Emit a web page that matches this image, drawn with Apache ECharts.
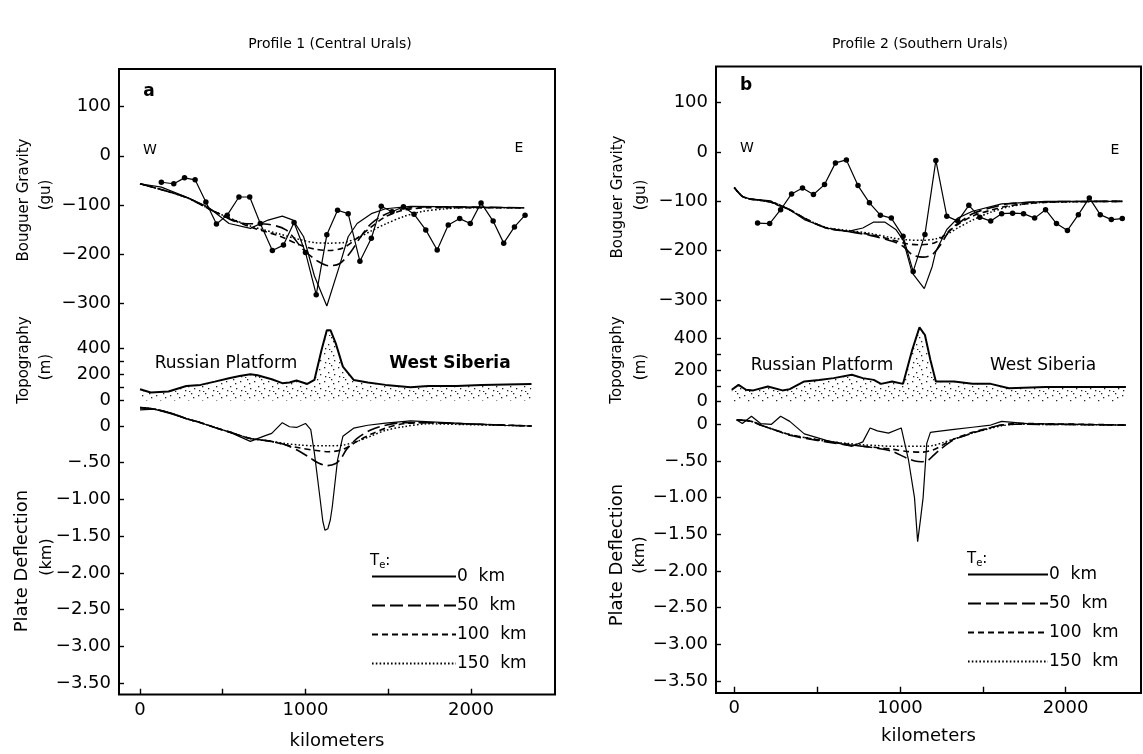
<!DOCTYPE html>
<html><head><meta charset="utf-8">
<script src="https://cdn.jsdelivr.net/npm/echarts@6/dist/echarts.min.js"></script>
<style>html,body{margin:0;padding:0;background:#fff}#c{width:1143px;height:754px}</style>
</head><body><div id="c"></div>
<script>
// ---------------- DATA (km along profile, value) ----------------
const teNames = ['0  km', '50  km', '100  km', '150  km'];
const xTickVals = [0, 500, 1000, 1500, 2000];
const xLabelVals = [0, 1000, 2000];
const gravTickVals = [100, 0, -100, -200, -300];
const topoTickVals = [0, 100, 200, 300, 400];
const topoLabelVals = [0, 200, 400];
const defTickVals = [0, -0.5, -1, -1.5, -2, -2.5, -3, -3.5];
const defTickLabels = ['0', '\u2212.50', '\u22121.00', '\u22121.50', '\u22122.00', '\u22122.50', '\u22123.00', '\u22123.50'];

// Profile 1 (Central Urals)
const p1GravObs = [[129,-54],[204,-57],[269,-45],[333,-49],[398,-94],[462,-139],[527,-121],[598,-84],[663,-84],[727,-138],[800,-193],[867,-182],[931,-136],[1000,-197],[1065,-283],[1129,-161],[1194,-111],[1258,-118],[1329,-215],[1398,-168],[1458,-103],[1523,-114],[1592,-104],[1656,-119],[1727,-151],[1796,-192],[1863,-141],[1932,-128],[1996,-138],[2061,-96],[2134,-133],[2198,-178],[2263,-145],[2327,-121]];
const p1GravTe0 = [[0,-57],[129,-64],[280,-84],[409,-104],[538,-138],[667,-148],[774,-131],[860,-123],[925,-131],[989,-165],[1054,-245],[1129,-306],[1205,-225],[1258,-165],[1312,-138],[1398,-118],[1484,-108],[1635,-103],[1957,-104],[2323,-106]];
const p1GravTe50 = [[0,-57],[280,-85],[452,-114],[624,-138],[753,-139],[882,-151],[989,-192],[1075,-215],[1140,-224],[1205,-220],[1269,-198],[1334,-165],[1398,-138],[1484,-119],[1592,-108],[1742,-104],[2323,-106]];
const p1GravTe100 = [[0,-57],[280,-85],[452,-114],[667,-145],[839,-163],[968,-182],[1054,-190],[1140,-193],[1226,-188],[1312,-168],[1398,-145],[1484,-124],[1592,-111],[1742,-106],[2323,-106]];
const p1GravTe150 = [[0,-57],[280,-85],[452,-114],[667,-143],[839,-159],[968,-171],[1054,-177],[1140,-178],[1226,-177],[1312,-168],[1398,-153],[1484,-139],[1592,-124],[1699,-114],[1850,-108],[1957,-106],[2323,-106]];
const p1Topo = [[0,86],[65,61],[172,68],[280,111],[366,119],[452,144],[538,170],[602,187],[667,200],[710,192],[796,162],[860,132],[903,137],[946,152],[1011,126],[1054,157],[1097,385],[1129,536],[1151,536],[1183,435],[1226,258],[1291,157],[1377,137],[1484,119],[1635,101],[1742,111],[1914,111],[2065,119],[2366,126]];
const p1DefTe0 = [[0,0.22],[86,0.23],[194,0.16],[280,0.10],[366,0.045],[452,-0.02],[538,-0.08],[667,-0.21],[753,-0.135],[796,-0.10],[860,0.045],[903,-0.01],[946,-0.02],[1000,0.035],[1032,-0.05],[1054,-0.37],[1086,-0.95],[1105,-1.3],[1118,-1.42],[1135,-1.4],[1150,-1.28],[1162,-1.1],[1194,-0.46],[1226,-0.14],[1291,-0.03],[1377,0.01],[1484,0.04],[1635,0.07],[1850,0.045],[2173,0.01],[2366,0]];
const p1DefTe50 = [[0,0.25],[86,0.23],[194,0.17],[280,0.10],[366,0.045],[452,-0.02],[538,-0.08],[667,-0.17],[796,-0.21],[882,-0.26],[968,-0.35],[1032,-0.44],[1075,-0.50],[1129,-0.54],[1183,-0.51],[1215,-0.44],[1248,-0.32],[1312,-0.17],[1398,-0.05],[1484,0.01],[1592,0.045],[1742,0.045],[1957,0.03],[2366,0]];
const p1DefTe100 = [[0,0.25],[86,0.23],[194,0.17],[280,0.10],[366,0.045],[452,-0.02],[538,-0.08],[667,-0.17],[796,-0.21],[882,-0.26],[968,-0.30],[1054,-0.33],[1140,-0.35],[1226,-0.32],[1312,-0.21],[1398,-0.11],[1484,-0.03],[1592,0.03],[1742,0.045],[1957,0.03],[2366,0]];
const p1DefTe150 = [[0,0.25],[86,0.23],[194,0.17],[280,0.10],[366,0.045],[452,-0.02],[538,-0.08],[667,-0.17],[796,-0.21],[882,-0.24],[968,-0.26],[1054,-0.27],[1140,-0.27],[1226,-0.26],[1312,-0.21],[1398,-0.135],[1484,-0.06],[1592,-0.01],[1742,0.03],[1957,0.02],[2366,0]];

// Profile 2 (Southern Urals)
const p2GravObs = [[141,-144],[214,-145],[280,-117],[346,-85],[412,-73],[478,-86],[545,-66],[611,-22],[677,-16],[747,-68],[816,-103],[882,-128],[948,-134],[1019,-171],[1080,-242],[1151,-167],[1217,-17],[1283,-130],[1349,-140],[1416,-108],[1482,-132],[1548,-140],[1614,-125],[1680,-124],[1746,-125],[1813,-134],[1879,-117],[1945,-145],[2011,-159],[2077,-127],[2143,-93],[2209,-127],[2276,-137],[2342,-135]];
const p2GravTe0 = [[0,-72],[49,-90],[93,-95],[159,-97],[220,-99],[260,-108],[335,-117],[423,-137],[556,-154],[688,-161],[776,-154],[842,-142],[908,-142],[975,-157],[1019,-178],[1074,-245],[1147,-277],[1195,-232],[1217,-201],[1283,-157],[1349,-134],[1438,-120],[1614,-105],[1879,-100],[2342,-100]];
const p2GravTe50 = [[0,-72],[49,-90],[93,-95],[159,-98],[247,-104],[335,-117],[423,-134],[556,-154],[688,-161],[820,-169],[953,-181],[1019,-191],[1074,-208],[1140,-213],[1195,-208],[1239,-191],[1305,-157],[1372,-140],[1438,-125],[1548,-113],[1658,-105],[1879,-101],[2342,-100]];
const p2GravTe100 = [[0,-72],[49,-90],[93,-95],[159,-98],[247,-104],[335,-117],[423,-134],[556,-154],[688,-161],[820,-167],[953,-178],[1041,-186],[1129,-188],[1217,-183],[1283,-164],[1349,-147],[1438,-130],[1548,-118],[1658,-109],[1879,-102],[2342,-100]];
const p2GravTe150 = [[0,-72],[49,-90],[93,-95],[159,-98],[247,-104],[335,-117],[423,-134],[556,-153],[688,-159],[820,-165],[953,-174],[1041,-178],[1129,-179],[1217,-176],[1283,-167],[1349,-154],[1438,-138],[1548,-122],[1658,-111],[1768,-105],[1879,-102],[2342,-100]];
const p2Topo = [[-15,75],[26,106],[71,75],[115,71],[203,96],[291,71],[335,79],[423,127],[512,137],[600,148],[710,169],[776,148],[842,137],[886,112],[953,127],[1019,112],[1074,325],[1118,467],[1151,419],[1184,262],[1217,127],[1327,127],[1438,112],[1548,112],[1658,85],[1879,92],[2099,92],[2364,92]];
const p2DefTe0 = [[15,0.06],[49,0.01],[104,0.11],[159,0.01],[225,0.0],[280,0.11],[335,0.04],[423,-0.13],[556,-0.22],[710,-0.30],[776,-0.24],[820,-0.05],[864,-0.09],[931,-0.12],[1008,-0.05],[1052,-0.49],[1088,-1.0],[1107,-1.60],[1124,-1.3],[1140,-1.0],[1162,-0.26],[1184,-0.11],[1217,-0.10],[1327,-0.07],[1438,-0.04],[1548,-0.01],[1614,0.04],[1768,0.01],[2364,-0.01]];
const p2DefTe50 = [[15,0.06],[104,0.04],[159,-0.01],[250,-0.08],[335,-0.15],[450,-0.20],[556,-0.24],[680,-0.28],[776,-0.30],[870,-0.33],[953,-0.37],[1041,-0.46],[1090,-0.50],[1129,-0.51],[1170,-0.49],[1195,-0.44],[1239,-0.35],[1327,-0.21],[1438,-0.12],[1540,-0.05],[1614,-0.01],[1700,0.0],[2364,-0.01]];
const p2DefTe100 = [[15,0.06],[104,0.04],[159,-0.01],[250,-0.08],[335,-0.14],[450,-0.19],[556,-0.23],[680,-0.27],[776,-0.30],[870,-0.32],[953,-0.34],[1041,-0.37],[1129,-0.38],[1200,-0.35],[1260,-0.28],[1327,-0.20],[1438,-0.11],[1540,-0.05],[1614,-0.01],[1700,0.01],[2364,-0.01]];
const p2DefTe150 = [[15,0.06],[104,0.04],[159,-0.01],[250,-0.08],[335,-0.14],[450,-0.19],[556,-0.23],[680,-0.26],[776,-0.28],[870,-0.29],[953,-0.30],[1041,-0.30],[1129,-0.30],[1200,-0.29],[1260,-0.25],[1327,-0.20],[1438,-0.12],[1540,-0.06],[1614,-0.02],[1700,0.0],[2364,-0.01]];

// ---------------- LAYOUT ----------------
const FONT = 'DejaVu Sans';
const INK = '#000';
const panels = [
  { left: 119, width: 436, xMin: -127, xMax: 2508, frameTop: 69, frameBottom: 694.5, kmGap: 38,
    subs: [
      { a: [100, 106.7], b: [-300, 303.0], range: [-330, 180] },
      { a: [0, 400.5], b: [400, 348.0], range: [-80, 630] },
      { a: [0, 426.0], b: [-3.5, 683.0], range: [-3.66, 0.35] }
    ] },
  { left: 716, width: 425, xMin: -110, xMax: 2455, frameTop: 66.5, frameBottom: 693, kmGap: 35,
    subs: [
      { a: [100, 102.7], b: [-300, 300.0], range: [-330, 175] },
      { a: [0, 401.7], b: [400, 338.0], range: [-60, 545] },
      { a: [0, 424.3], b: [-3.5, 681.0], range: [-3.66, 0.3] }
    ] }
];
function pxOf(s, v) { return s.a[1] + (v - s.a[0]) * (s.b[1] - s.a[1]) / (s.b[0] - s.a[0]); }

const grids = [], xAxes = [], yAxes = [];
const tickStyle = { color: INK, width: 1.4 };
const lblStyle = { fontFamily: FONT, fontSize: 18, color: INK };
function minus(v) { return v < 0 ? '\u2212' + Math.abs(v) : String(v); }

panels.forEach((p, pi) => {
  p.subs.forEach((s, si) => {
    const top = pxOf(s, s.range[1]);
    const bottom = pxOf(s, s.range[0]);
    grids.push({ left: p.left, top: top, width: p.width, height: bottom - top, containLabel: false, outerBoundsMode: 'none' });
    const gi = grids.length - 1;
    const isBottom = si === 2;
    xAxes.push({
      type: 'value', gridIndex: gi, min: p.xMin, max: p.xMax, show: isBottom, position: 'bottom',
      axisLine: { show: false, onZero: false }, splitLine: { show: false },
      axisTick: { show: true, inside: true, length: 6, customValues: xTickVals, lineStyle: tickStyle },
      axisLabel: { customValues: xLabelVals, formatter: v => String(v), margin: 7, ...lblStyle },
      name: 'kilometers', nameLocation: 'middle', nameGap: p.kmGap,
      nameTextStyle: { fontFamily: FONT, fontSize: 18, color: INK }
    });
    let tickVals, labelVals, fmt;
    if (si === 0) { tickVals = gravTickVals; labelVals = gravTickVals; fmt = minus; }
    else if (si === 1) { tickVals = topoTickVals; labelVals = topoLabelVals; fmt = minus; }
    else {
      tickVals = defTickVals; labelVals = defTickVals;
      fmt = v => { let k = 0; defTickVals.forEach((t, i) => { if (Math.abs(t - v) < 1e-6) k = i; }); return defTickLabels[k]; };
    }
    yAxes.push({
      type: 'value', gridIndex: gi, min: s.range[0], max: s.range[1], position: 'left',
      axisLine: { show: false, onZero: false }, splitLine: { show: false },
      axisTick: { show: true, inside: true, length: 5, customValues: tickVals, lineStyle: tickStyle },
      axisLabel: { customValues: labelVals, formatter: fmt, margin: 8, ...lblStyle }
    });
  });
});

// ---------------- SERIES ----------------
const teStyles = [
  { color: INK, width: 1.2, type: 'solid' },
  { color: INK, width: 1.6, type: [13, 5] },
  { color: INK, width: 1.6, type: [6, 4] },
  { color: INK, width: 1.5, type: [1.6, 2.2] }
];
function stipple() {
  const c = document.createElement('canvas'); c.width = 14; c.height = 14;
  const g = c.getContext('2d'); g.fillStyle = '#222';
  [[2,3],[9,1],[6,8],[12,10],[3,12],[11,5],[7,13]].forEach(q => g.fillRect(q[0], q[1], 1.3, 1.3));
  return c;
}
const series = [];
function addModels(list, gi) {
  list.forEach((d, i) => series.push({
    type: 'line', name: teNames[i], data: d, xAxisIndex: gi, yAxisIndex: gi,
    symbol: 'none', smooth: i === 0 ? false : 0.3, lineStyle: teStyles[i], itemStyle: { color: INK },
    silent: true, z: 3 + i
  }));
}
function addObs(d, gi) {
  series.push({ type: 'line', name: 'Observed', data: d, xAxisIndex: gi, yAxisIndex: gi,
    symbol: 'circle', symbolSize: 5.5, itemStyle: { color: INK }, lineStyle: { color: INK, width: 1.2 }, silent: true, z: 8 });
}
function addTopo(d, gi) {
  series.push({ type: 'line', name: 'Topography', data: d, xAxisIndex: gi, yAxisIndex: gi,
    symbol: 'none', lineStyle: { color: INK, width: 2 },
    areaStyle: { color: { image: stipple(), repeat: 'repeat' }, opacity: 1 }, silent: true, z: 2 });
}
addObs(p1GravObs, 0); addModels([p1GravTe0, p1GravTe50, p1GravTe100, p1GravTe150], 0);
addTopo(p1Topo, 1);
addModels([p1DefTe0, p1DefTe50, p1DefTe100, p1DefTe150], 2);
addObs(p2GravObs, 3); addModels([p2GravTe0, p2GravTe50, p2GravTe100, p2GravTe150], 3);
addTopo(p2Topo, 4);
addModels([p2DefTe0, p2DefTe50, p2DefTe100, p2DefTe150], 5);

// ---------------- TEXT & FRAMES ----------------
function txt(x, y, s, size, opts) {
  opts = opts || {};
  return { type: 'text', x: x, y: y, rotation: opts.rot || 0, z: 10, silent: true,
    style: { text: s, fontFamily: FONT, fontSize: size, fontWeight: opts.bold ? 'bold' : 'normal',
      fill: INK, align: 'center', verticalAlign: 'middle' } };
}
const R = Math.PI / 2;
const graphic = [];
panels.forEach(p => {
  graphic.push({ type: 'rect', z: 9, silent: true,
    shape: { x: p.left, y: p.frameTop, width: p.width, height: p.frameBottom - p.frameTop },
    style: { fill: 'none', stroke: INK, lineWidth: 2 } });
});
graphic.push(
  txt(330, 44, 'Profile 1 (Central Urals)', 14),
  txt(920, 44, 'Profile 2 (Southern Urals)', 14),
  txt(149, 92, 'a', 17, { bold: true }), txt(746, 86, 'b', 17, { bold: true }),
  txt(150, 150, 'W', 14), txt(519, 148, 'E', 14),
  txt(747, 148, 'W', 14), txt(1115, 150, 'E', 14),
  txt(226, 364, 'Russian Platform', 17), txt(450, 364, 'West Siberia', 17, { bold: true }),
  txt(822, 366, 'Russian Platform', 17), txt(1043, 366, 'West Siberia', 17),
  txt(24, 200, 'Bouguer Gravity', 15, { rot: R }), txt(46, 195, '(gu)', 15, { rot: R }),
  txt(24, 360, 'Topography', 15, { rot: R }), txt(46, 367, '(m)', 15, { rot: R }),
  txt(22, 561, 'Plate Deflection', 18, { rot: R }), txt(47, 557, '(km)', 16, { rot: R }),
  txt(618, 197, 'Bouguer Gravity', 15, { rot: R }), txt(641, 195, '(gu)', 15, { rot: R }),
  txt(617, 360, 'Topography', 15, { rot: R }), txt(641, 367, '(m)', 15, { rot: R }),
  txt(617, 555, 'Plate Deflection', 18, { rot: R }), txt(640, 555, '(km)', 16, { rot: R })
);
function teLabel(x, y) {
  return { type: 'text', x: x, y: y, z: 10, silent: true,
    style: { text: '{t|T}{s|e}{t|:}', fontFamily: FONT, fill: INK, verticalAlign: 'middle',
      rich: { t: { fontSize: 15, fontFamily: FONT, fill: INK }, s: { fontSize: 10, fontFamily: FONT, fill: INK, padding: [8, 0, 0, 0] } } } };
}
graphic.push(teLabel(370, 561), teLabel(967, 559));

function legendAt(left, top, w) {
  return { data: teNames, orient: 'vertical', left: left, top: top, itemWidth: w, itemHeight: 12,
    itemGap: 8, selectedMode: false, padding: 0,
    itemStyle: { color: 'rgba(0,0,0,0)', borderWidth: 0, opacity: 0 },
    textStyle: { fontFamily: FONT, fontSize: 17, color: INK, lineHeight: 21, padding: [0, 0, 0, -4] } };
}

const chart = echarts.init(document.getElementById('c'), null, { renderer: 'canvas' });
chart.setOption({
  animation: false,
  backgroundColor: '#fff',
  grid: grids, xAxis: xAxes, yAxis: yAxes,
  legend: [legendAt(371, 566, 84), legendAt(967, 564, 80)],
  series: series,
  graphic: graphic
});
</script></body></html>
